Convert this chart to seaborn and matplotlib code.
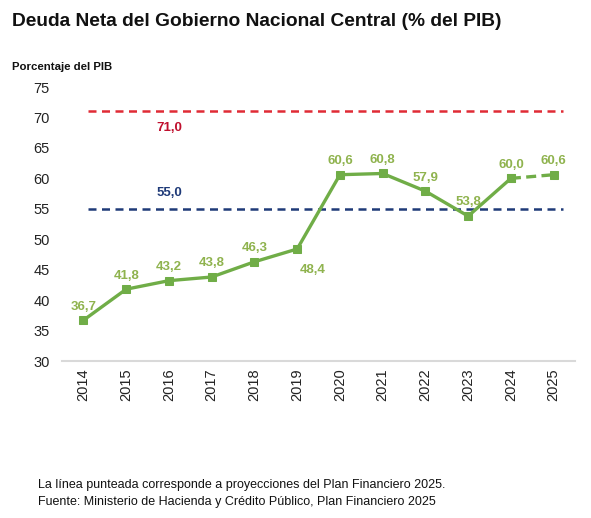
import matplotlib
matplotlib.use("Agg")
import matplotlib.pyplot as plt
import seaborn as sns
import pandas as pd

years = ["2014", "2015", "2016", "2017", "2018", "2019", "2020", "2021", "2022", "2023", "2024", "2025"]
deuda = [36.7, 41.8, 43.2, 43.8, 46.3, 48.4, 60.6, 60.8, 57.9, 53.8, 60.0, 60.6]
labels = ["36,7", "41,8", "43,2", "43,8", "46,3", "48,4", "60,6", "60,8", "57,9", "53,8", "60,0", "60,6"]
n_hist = 11  # 2014-2024 observed, 2025 projection
limite = 71.0
ancla = 55.0
limite_label = "71,0"
ancla_label = "55,0"
yticks = [30, 35, 40, 45, 50, 55, 60, 65, 70, 75]

sns.set_theme(style="white")
plt.rcParams["font.family"] = ["Liberation Sans", "DejaVu Sans"]

df = pd.DataFrame({"year": years, "deuda": deuda})
df["x"] = range(len(df))

fig = plt.figure(figsize=(5.91, 5.18), dpi=100)
ax = fig.add_axes([0.105, 0.303, 0.868, 0.529])

green = "#70AD47"
lab_green = "#8FB34E"

ax.axhline(limite, xmin=0.05, xmax=0.977, color="#E02B35", lw=1.8, ls=(0, (3.2, 2.2)), zorder=1)
ax.axhline(ancla, xmin=0.05, xmax=0.977, color="#1F3A78", lw=1.8, ls=(0, (3.2, 2.2)), zorder=1)

hist = df.iloc[:n_hist]
proj = df.iloc[n_hist - 1:]
sns.lineplot(data=hist, x="x", y="deuda", ax=ax, color=green, lw=2.4,
             marker="s", markersize=6, markeredgecolor=green, zorder=3)
sns.lineplot(data=proj, x="x", y="deuda", ax=ax, color=green, lw=2.4,
             ls=(0, (3, 1.6)), marker="s", markersize=6, markeredgecolor=green, zorder=3)

for i, (v, t) in enumerate(zip(deuda, labels)):
    if years[i] == "2019":
        off = (11, -11)
        va = "top"
    else:
        off = (0, 5.5)
        va = "bottom"
    ax.annotate(t, (i, v), xytext=off, textcoords="offset points", ha="center", va=va,
                color=lab_green, fontsize=9.5, fontweight="bold")

ax.annotate(limite_label, (2, limite), xytext=(0, -12), textcoords="offset points",
            ha="center", va="center", color="#C0102E", fontsize=9.5, fontweight="bold")
ax.annotate(ancla_label, (2, ancla), xytext=(0, 11.5), textcoords="offset points",
            ha="center", va="center", color="#1F3A78", fontsize=9.5, fontweight="bold")

ax.set_xlim(-0.5, len(years) - 0.5)
ax.set_ylim(30, 75)
ax.set_yticks(yticks)
ax.set_yticklabels([str(t) for t in yticks], fontsize=10.5, color="#222222")
ax.set_xticks(range(len(years)))
ax.set_xticklabels(years, rotation=90, fontsize=10.5, color="#222222")
ax.tick_params(axis="both", length=0)
ax.tick_params(axis="x", pad=5)
ax.tick_params(axis="y", pad=9)
ax.set_xlabel("")
ax.set_ylabel("")
for s in ["top", "right", "left"]:
    ax.spines[s].set_visible(False)
ax.spines["bottom"].set_color("#D9D9D9")
ax.spines["bottom"].set_linewidth(1.5)
ax.grid(False)

fig.text(12 / 591, 1 - 22 / 518, "Deuda Neta del Gobierno Nacional Central (% del PIB)",
         fontsize=13.8, fontweight="bold", ha="left", va="center", color="#111111")
fig.text(12 / 591, 1 - 67 / 518, "Porcentaje del PIB", fontsize=8.2, fontweight="bold",
         ha="left", va="center", color="#111111")
fig.text(38 / 591, 1 - 485 / 518, "La línea punteada corresponde a proyecciones del Plan Financiero 2025.",
         fontsize=9, ha="left", va="center", color="#111111")
fig.text(38 / 591, 1 - 502 / 518, "Fuente: Ministerio de Hacienda y Crédito Público, Plan Financiero 2025",
         fontsize=9, ha="left", va="center", color="#111111")

fig.savefig("out.png", dpi=100)
